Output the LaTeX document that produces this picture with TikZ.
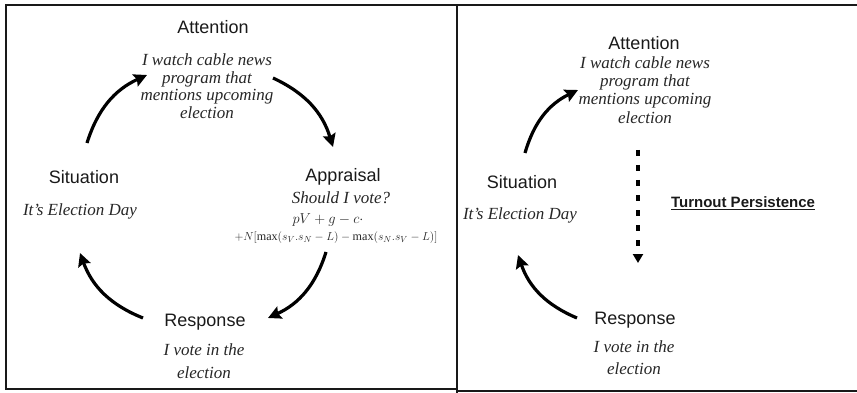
\documentclass[tikz,border=0pt]{standalone}
\usepackage{fontspec}
\setmainfont{Liberation Serif}
\setsansfont{Liberation Sans}
\usetikzlibrary{arrows.meta}
\begin{document}
\begin{tikzpicture}[x=1pt,y=1pt,
  lab/.style={inner sep=0pt,font=\sffamily\fontsize{18}{20}\selectfont,text=black!90},
  desc/.style={inner sep=0pt,align=center,font=\itshape\fontsize{17}{17.5}\selectfont,text=black!85},
  desctwo/.style={desc,font=\itshape\fontsize{17}{22.5}\selectfont},
  fml/.style={inner sep=0pt,font=\fontsize{15}{16}\selectfont,text=black!85},
  frame/.style={line width=2.8pt,black!90},
  cyc/.style={line width=3.2pt,-{Stealth[length=13pt,width=13pt,inset=2pt]},bend left=24},
  dotarr/.style={line width=3.2pt,dash pattern=on 6pt off 9pt,-{Triangle[length=9pt,width=10pt]}}
]
\useasboundingbox (0,0) rectangle (857,-393);
% frames
\draw[frame] (6,-5) rectangle (457,-389);
\draw[frame] (457,-5) -- (857,-5);
\draw[frame] (457,-5) -- (457,-393);
\draw[frame] (457,-391) -- (857,-391);

% left panel
\node[lab] (att1) at (213,-27) {Attention};
\node[desc] (att1t) at (207,-86) {I watch cable news\\program that\\mentions upcoming\\election};
\node[lab] (sit1) at (84,-177) {Situation};
\node[desc] (sit1t) at (80,-211) {It's Election Day};
\node[lab] (app) at (343,-177) {Appraisal};
\node[desc] (appq) at (341,-198) {Should I vote?};
\node[fml] (f1) at (328,-220) {$pV+g-c\cdot$};
\node[fml] (f2) at (336,-238) {\resizebox{203pt}{!}{$+N[\max(s_V.s_N-L)-\max(s_N.s_V-L)]$}};
\node[lab] (resp1) at (205,-322) {Response};
\node[desctwo] (resp1t) at (204,-361) {I vote in the\\election};

\coordinate (a1s) at (87,-143);  \coordinate (a1e) at (147,-75);
\coordinate (a2s) at (273,-78);  \coordinate (a2e) at (333,-147);
\coordinate (a3s) at (326,-252); \coordinate (a3e) at (268,-318);
\coordinate (a4s) at (143,-318); \coordinate (a4e) at (80,-253);
\draw[cyc] (a1s) to (a1e);
\draw[cyc] (a2s) to (a2e);
\draw[cyc] (a3s) to (a3e);
\draw[cyc] (a4s) to (a4e);

% right panel
\node[lab] (att2) at (644,-43) {Attention};
\node[desc,font=\itshape\fontsize{17}{18.3}\selectfont] (att2t) at (645,-90) {I watch cable news\\program that\\mentions upcoming\\election};
\node[lab] (sit2) at (522,-182) {Situation};
\node[desc] (sit2t) at (520,-215) {It's Election Day};
\node[inner sep=0pt,font=\sffamily\bfseries\fontsize{15}{17}\selectfont,text=black!90] (turn) at (743,-203) {\underline{Turnout Persistence}};
\node[lab] (resp2) at (635,-320) {Response};
\node[desctwo,font=\itshape\fontsize{17}{22}\selectfont] (resp2t) at (634,-358) {I vote in the\\election};

\coordinate (b1s) at (525,-153); \coordinate (b1e) at (578,-90);
\coordinate (b2s) at (577,-318); \coordinate (b2e) at (518,-255);
\coordinate (ds) at (638,-150);  \coordinate (de) at (638,-263);
\draw[cyc] (b1s) to (b1e);
\draw[cyc] (b2s) to (b2e);
\draw[dotarr] (ds) -- (de);
\end{tikzpicture}
\end{document}
